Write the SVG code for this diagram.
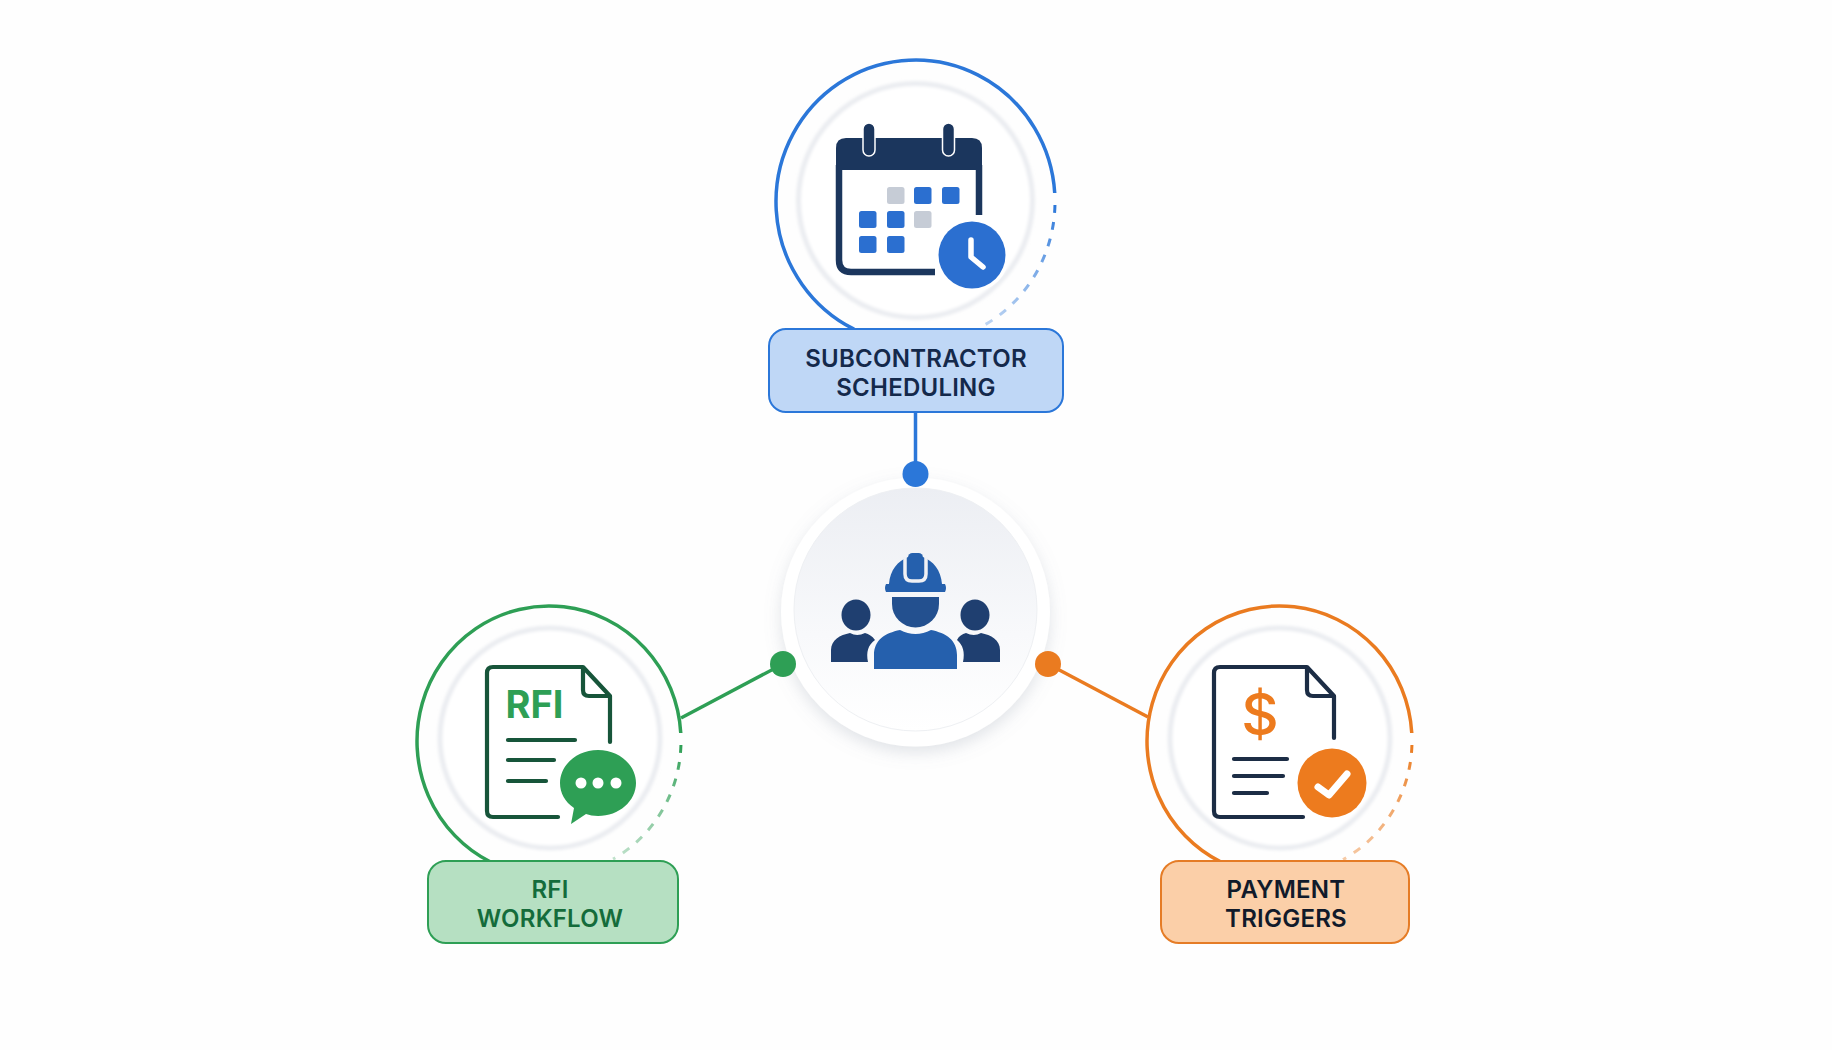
<svg xmlns="http://www.w3.org/2000/svg" width="1832" height="1050" viewBox="0 0 1832 1050">
<style>
.lbl{font-family:Inter,"Liberation Sans",sans-serif;font-weight:600;font-size:24px;text-anchor:middle;letter-spacing:.25px}
.ring{fill:#fff;stroke:#ebedf1;stroke-width:5;filter:url(#soft)}
.arc{fill:none;stroke-width:3.5;stroke-linecap:butt}
.dash{fill:none;stroke-width:3;stroke-dasharray:8 9}
.card{stroke-width:2}
.ln{fill:none;stroke-width:4.200;stroke-linecap:round;stroke-linejoin:round}
.wire{fill:none;stroke-width:3.5}
</style>
<defs>
<filter id="soft" x="-10%" y="-10%" width="120%" height="120%"><feGaussianBlur stdDeviation="1.800"/></filter>
<filter id="shadow" x="-20%" y="-20%" width="140%" height="140%"><feDropShadow dx="0" dy="6" stdDeviation="8" flood-color="#8a94a6" flood-opacity=".25"/></filter>
<linearGradient id="hub" x1="0" y1="0" x2="0" y2="1"><stop offset="0" stop-color="#eceef3"/><stop offset=".6" stop-color="#f8f9fb"/><stop offset="1" stop-color="#fff"/></linearGradient>
<linearGradient id="fb" gradientUnits="userSpaceOnUse" x1="0" y1="205" x2="0" y2="326"><stop offset="0" stop-color="#2b77d9"/><stop offset="1" stop-color="#2b77d9" stop-opacity=".3"/></linearGradient>
<linearGradient id="fg" gradientUnits="userSpaceOnUse" x1="0" y1="745" x2="0" y2="859"><stop offset="0" stop-color="#2e9f55"/><stop offset="1" stop-color="#2e9f55" stop-opacity=".3"/></linearGradient>
<linearGradient id="fo" gradientUnits="userSpaceOnUse" x1="0" y1="745" x2="0" y2="859"><stop offset="0" stop-color="#ea7b20"/><stop offset="1" stop-color="#ea7b20" stop-opacity=".4"/></linearGradient>
</defs>
<rect width="1832" height="1050" fill="#fefefe"/>

<g id="node-hub">
<circle cx="915.5" cy="612" r="134.500" fill="#fff" filter="url(#shadow)"/>
<circle cx="915.5" cy="609.5" r="121.5" fill="url(#hub)" stroke="#eef0f3" stroke-width="1"/>
<ellipse cx="856" cy="615" rx="14.5" ry="15.5" fill="#1f3f70"/>
<ellipse cx="975" cy="615" rx="14.5" ry="15.5" fill="#1f3f70"/>
<path d="M831 662V650C831 640 840 635 850 633Q857 637 865 633C869 634 872 636 875 640C868 645 866 652 868 662Z" fill="#1f3f70"/>
<path d="M1000 662V650C1000 640 991 635 981 633Q974 637 966 633C962 634 959 636 957 640C963 645 965 652 963 662Z" fill="#1f3f70"/>
<path d="M874 669V655C874 640 885 633 900 630Q915.5 638 931 630C946 633 957 640 957 655V669Z" fill="#2560ad"/>
<path d="M892 597H939V604A23.5 23.5 0 0 1 892 604Z" fill="#23508f"/>
<path d="M889 584C890 570 898 561 908 557H923C933 561 941 570 942 584H945Q947 588 945 592H886Q884 588 886 584Z" fill="#2560ad"/>
<rect x="908" y="553" width="15" height="25" rx="4.5" fill="#2560ad"/>
<path d="M905 557V574Q905 581 912 581H919Q926 581 926 574V557" fill="none" stroke="#f0f1f5" stroke-width="3.5"/>
</g>

<g id="node-subcontractor">
<circle class="ring" cx="915.5" cy="200.500" r="117"/>
<path class="arc" stroke="#2b77d9" d="M1054.73 193A139.5 141.8 0 1 0 853 328.6L856 331"/>
<path class="dash" stroke="url(#fb)" d="M1054.96 205A139.5 141.8 0 0 1 983 325.9"/>
<path d="M839 165H979V215M935 272H851Q839 272 839 260V165" fill="#fff" stroke="none"/>
<path d="M935 272H851Q839 272 839 260V165M979 165V215" fill="none" stroke="#1b365d" stroke-width="6.500"/>
<path d="M836 170V148Q836 138 846 138H972Q982 138 982 148V170Z" fill="#1b365d"/>
<g fill="#1b365d" stroke="#fff" stroke-width="1.5"><rect x="863" y="123" width="12" height="33" rx="6"/><rect x="942.500" y="123" width="12" height="33" rx="6"/></g>
<g fill="#2b6fd0">
<rect x="887" y="187" width="17.500" height="17" rx="2.500" fill="#c6ccd6"/><rect x="914" y="187" width="17.500" height="17" rx="2.500"/><rect x="942" y="187" width="17.500" height="17" rx="2.500"/>
<rect x="859" y="211" width="17.500" height="17" rx="2.500"/><rect x="887" y="211" width="17.500" height="17" rx="2.500"/><rect x="914" y="211" width="17.500" height="17" rx="2.500" fill="#c6ccd6"/>
<rect x="859" y="236" width="17.500" height="17" rx="2.500"/><rect x="887" y="236" width="17.500" height="17" rx="2.500"/>
</g>
<circle cx="972" cy="255" r="37" fill="#fff"/>
<circle cx="972" cy="255" r="33.500" fill="#2b6fd0"/>
<path d="M971 240V257L983 267" fill="none" stroke="#fff" stroke-width="5.500" stroke-linecap="round" stroke-linejoin="round"/>
<rect class="card" x="769" y="329" width="294" height="83" rx="17" fill="#bfd7f6" stroke="#2b77d9"/>
<text class="lbl" x="916" y="367" fill="#14294b">SUBCONTRACTOR</text>
<text class="lbl" x="916" y="396" fill="#14294b">SCHEDULING</text>
</g>

<g id="node-rfi">
<circle class="ring" cx="550" cy="738" r="110"/>
<path class="arc" stroke="#2e9f55" d="M680.77 733A132 135 0 1 0 491 862.27"/>
<path class="dash" stroke="url(#fg)" d="M680.94 745A132 135 0 0 1 613 859.07"/>
<path class="ln" stroke="#17553a" d="M558 817H493Q487 817 487 811V673Q487 667 493 667H583L610 696V742M583 667V690Q583 696 589 696H610"/>
<text x="505.500" y="718" font-family="Inter,'Liberation Sans',sans-serif" font-weight="700" font-size="38" fill="#2e9f55">RFI</text>
<path class="ln" stroke="#17553a" d="M508 740H575M508 760H554M508 781H546"/>
<path d="M598 750C619 750 636 765 636 783C636 801 619 816 598 816Q591 816 586 814L571 824L574 808C565 802 560 793 560 783C560 765 577 750 598 750Z" fill="#2e9f55"/>
<g fill="#fff"><circle cx="581" cy="783" r="5.500"/><circle cx="598" cy="783" r="5.500"/><circle cx="616" cy="783" r="5.500"/></g>
<rect class="card" x="428" y="861" width="250" height="82" rx="18" fill="#b6e0c2" stroke="#2e9f55"/>
<text class="lbl" x="550" y="898" fill="#146c3b">RFI</text>
<text class="lbl" x="550" y="927" fill="#146c3b">WORKFLOW</text>
</g>

<g id="node-payment">
<circle class="ring" cx="1280" cy="738" r="110"/>
<path class="arc" stroke="#ea7b20" d="M1411.77 733A132.500 135 0 1 0 1221.500 862.38"/>
<path class="dash" stroke="url(#fo)" d="M1411.94 745A132.500 135 0 0 1 1343 859.5"/>
<path class="ln" stroke="#1c2d45" d="M1303 817H1220Q1214 817 1214 811V673Q1214 667 1220 667H1307L1334 696V738M1307 667V690Q1307 696 1313 696H1334"/>
<text x="1260" y="735" text-anchor="middle" font-family="Inter,'Liberation Sans',sans-serif" font-weight="500" font-size="58" fill="#ed7b1e">$</text>
<path class="ln" stroke="#1c2d45" d="M1234 759H1287M1234 776H1283M1234 793H1267"/>
<circle cx="1332" cy="783" r="34.500" fill="#ed7b1e"/>
<path d="M1318 787L1329 795L1347 774" fill="none" stroke="#fff" stroke-width="7" stroke-linecap="round" stroke-linejoin="round"/>
<rect class="card" x="1161" y="861" width="248" height="82" rx="18" fill="#fbcfa8" stroke="#e57c26"/>
<text class="lbl" x="1286" y="898" fill="#111a2a">PAYMENT</text>
<text class="lbl" x="1286" y="927" fill="#111a2a">TRIGGERS</text>
</g>

<g id="connectors">
<path class="wire" stroke="#2b77d9" d="M915.500 412V474"/>
<circle cx="915.500" cy="474" r="13" fill="#2b77d9"/>
<path class="wire" stroke="#2e9f55" d="M783 664L681 718"/>
<circle cx="783" cy="664" r="13" fill="#2e9f55"/>
<path class="wire" stroke="#ea7b20" d="M1048 664L1148 717"/>
<circle cx="1048" cy="664" r="13" fill="#ea7b20"/>
</g>
</svg>
